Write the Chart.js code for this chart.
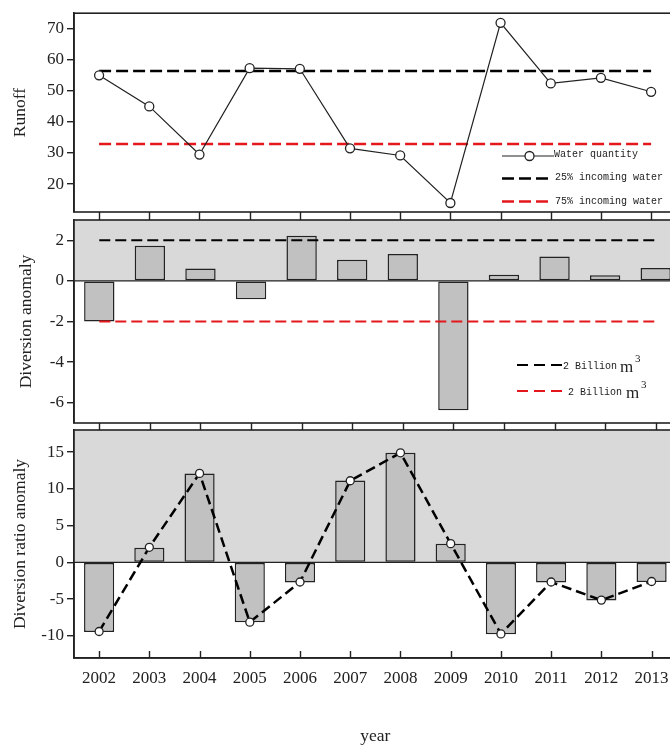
<!DOCTYPE html>
<html lang="en">
<head>
<meta charset="UTF-8">
<title>Runoff and diversion anomaly 2002-2013</title>
<script src="https://cdn.jsdelivr.net/npm/chart.js"></script>
<style>
  html, body { margin: 0; padding: 0; background: #fff; overflow: hidden; }
  .wrap { position: relative; width: 670px; height: 747px; overflow: hidden; }
  .wrap canvas { position: absolute; left: 0; top: 0; }
</style>
</head>
<body>
<div class="wrap">
  <canvas id="runoffChart" width="682" height="747"></canvas>
  <canvas id="diversionChart" width="682" height="747"></canvas>
  <canvas id="ratioChart" width="682" height="747"></canvas>
</div>
<script>
const years = ['2002', '2003', '2004', '2005', '2006', '2007', '2008', '2009', '2010', '2011', '2012', '2013'];

// top panel
const runoff = [55.0, 45.0, 29.5, 57.3, 57.1, 31.5, 29.2, 13.9, 71.9, 52.4, 54.2, 49.7];
const runoff25 = 56.4;
const runoff75 = 32.9;
const runoffTicks = [20, 30, 40, 50, 60, 70];

// middle panel
const diversion = [-2.0, 1.73, 0.61, -0.9, 2.22, 1.04, 1.32, -6.37, 0.3, 1.2, 0.28, 0.63];
const diversionUpper = 2;
const diversionLower = -2;
const diversionTicks = [-6, -4, -2, 0, 2];

// bottom panel
const ratioBars = [-9.45, 2.0, 12.1, -8.13, -2.73, 11.14, 14.9, 2.55, -9.77, -2.73, -5.18, -2.67];
const ratioLine = [-9.4, 2.05, 12.1, -8.13, -2.67, 11.1, 14.9, 2.55, -9.72, -2.67, -5.13, -2.6];
const ratioTicks = [-10, -5, 0, 5, 10, 15];

const ink = '#222';
const red = '#e3171c';
const shade = '#d9d9d9';
const barFill = '#c1c1c1';
const serif = '"Liberation Serif", "Times New Roman", serif';
const mono = '"Liberation Mono", "DejaVu Sans Mono", monospace';

function flat(v) {
    return [{ x: years[0], y: v }, { x: years[years.length - 1], y: v }];
}

const framePlugin = {
    id: 'frame',
    beforeDatasetsDraw(chart, args, opts) {
        const { ctx, chartArea: a, scales: { y } } = chart;
        if (!opts.shade) return;
        const y0 = y.getPixelForValue(0);
        ctx.save();
        ctx.fillStyle = shade;
        ctx.fillRect(a.left, a.top, a.right - a.left, y0 - a.top);
        ctx.strokeStyle = ink;
        ctx.lineWidth = 1.4;
        ctx.beginPath();
        ctx.moveTo(a.left, y0);
        ctx.lineTo(a.right, y0);
        ctx.stroke();
        ctx.restore();
    },
    afterDraw(chart, args, opts) {
        const { ctx, chartArea: a, scales: { x } } = chart;
        ctx.save();
        ctx.strokeStyle = ink;
        ctx.lineWidth = 1.6;
        ctx.strokeRect(a.left, a.top, a.right - a.left, a.bottom - a.top);
        ctx.lineWidth = 1.4;
        ctx.beginPath();
        years.forEach((yr, i) => {
            const px = Math.round(x.getPixelForValue(i)) + 0.5;
            ctx.moveTo(px, a.bottom);
            ctx.lineTo(px, a.bottom + opts.tickLen);
        });
        ctx.stroke();
        if (opts.legend) opts.legend(ctx);
        ctx.restore();
    }
};

function dashLine(ctx, x1, x2, y, color, dash, w) {
    ctx.save();
    ctx.strokeStyle = color;
    ctx.lineWidth = w;
    ctx.setLineDash(dash);
    ctx.beginPath();
    ctx.moveTo(x1, y);
    ctx.lineTo(x2, y);
    ctx.stroke();
    ctx.restore();
}

function runoffLegend(ctx) {
    ctx.font = '10px ' + mono;
    ctx.textBaseline = 'middle';
    dashLine(ctx, 502, 554, 156, ink, [], 1.2);
    ctx.beginPath();
    ctx.arc(529.5, 156, 4.5, 0, Math.PI * 2);
    ctx.fillStyle = '#fff';
    ctx.fill();
    ctx.strokeStyle = ink;
    ctx.lineWidth = 1.3;
    ctx.stroke();
    ctx.fillStyle = '#222';
    ctx.fillText('Water quantity', 554, 154);
    dashLine(ctx, 502, 552, 178.5, '#000', [12, 5], 2.5);
    ctx.fillText('25% incoming water', 555, 177);
    dashLine(ctx, 502, 552, 201.5, red, [12, 5], 2.5);
    ctx.fillText('75% incoming water', 555, 201);
}

function diversionLegend(ctx) {
    ctx.textBaseline = 'alphabetic';
    dashLine(ctx, 517, 565, 365, '#000', [11, 6], 2);
    dashLine(ctx, 517, 565, 391, red, [11, 6], 2);
    ctx.fillStyle = '#222';
    ctx.font = '10px ' + mono;
    ctx.fillText('2 Billion', 563, 369);
    ctx.fillText('2 Billion', 568, 395);
    ctx.font = '17px ' + serif;
    ctx.fillText('m', 620, 372);
    ctx.fillText('m', 626, 398);
    ctx.font = '11px ' + serif;
    ctx.fillText('3', 635, 362);
    ctx.fillText('3', 641, 388);
}

function yAxis(min, max, ticks, title, titlePad) {
    return {
        min: min,
        max: max,
        afterBuildTicks: s => { s.ticks = ticks.map(v => ({ value: v })); },
        afterFit: s => { s.width = 74; },
        grid: { drawOnChartArea: false, drawTicks: true, tickLength: 7, color: ink, lineWidth: 1.4 },
        border: { display: true, color: ink, width: 1.6 },
        ticks: { padding: 3, color: ink, font: { family: serif, size: 17 } },
        title: {
            display: true, text: title, color: ink,
            font: { family: serif, size: 17.5 },
            padding: { top: titlePad, bottom: 0 }
        }
    };
}

Chart.defaults.devicePixelRatio = 1;

new Chart(document.getElementById('runoffChart'), {
    type: 'line',
    data: {
        labels: years,
        datasets: [{
            data: runoff,
            order: 0,
            borderColor: ink,
            borderWidth: 1.2,
            tension: 0,
            pointRadius: 4.5,
            pointBackgroundColor: '#fff',
            pointBorderColor: ink,
            pointBorderWidth: 1.3
        }, {
            data: flat(runoff25),
            order: 1,
            borderColor: '#000',
            borderWidth: 2.5,
            borderDash: [12, 5],
            pointRadius: 0
        }, {
            data: flat(runoff75),
            order: 2,
            borderColor: red,
            borderWidth: 2.5,
            borderDash: [12, 5],
            pointRadius: 0
        }]
    },
    options: {
        responsive: false,
        animation: false,
        events: [],
        layout: { padding: { top: 10, bottom: 535, left: 0, right: 1 } },
        plugins: { legend: { display: false }, tooltip: { enabled: false }, frame: { tickLen: 8, legend: runoffLegend } },
        scales: {
            x: { type: 'category', offset: true, display: false },
            y: yAxis(11, 75, runoffTicks, 'Runoff', 9.5)
        }
    },
    plugins: [framePlugin]
});

new Chart(document.getElementById('diversionChart'), {
    type: 'bar',
    data: {
        labels: years,
        datasets: [{
            type: 'line',
            data: flat(diversionUpper),
            order: 0,
            borderColor: '#000',
            borderWidth: 2,
            borderDash: [11, 5],
            pointRadius: 0
        }, {
            type: 'line',
            data: flat(diversionLower),
            order: 0,
            borderColor: red,
            borderWidth: 2,
            borderDash: [11, 5],
            pointRadius: 0
        }, {
            data: diversion,
            order: 1,
            backgroundColor: barFill,
            borderColor: ink,
            borderWidth: 1.5,
            borderSkipped: false,
            categoryPercentage: 1,
            barPercentage: 0.6
        }]
    },
    options: {
        responsive: false,
        animation: false,
        events: [],
        layout: { padding: { top: 220, bottom: 324, left: 0, right: 1 } },
        plugins: { legend: { display: false }, tooltip: { enabled: false }, frame: { shade: true, tickLen: 7, legend: diversionLegend } },
        scales: {
            x: { type: 'category', offset: true, display: false },
            y: yAxis(-7, 3, diversionTicks, 'Diversion anomaly', 15.5)
        }
    },
    plugins: [framePlugin]
});

new Chart(document.getElementById('ratioChart'), {
    type: 'bar',
    data: {
        labels: years,
        datasets: [{
            type: 'line',
            data: ratioLine,
            order: 0,
            borderColor: '#000',
            borderWidth: 2.5,
            borderDash: [10, 5],
            tension: 0,
            pointRadius: 4,
            pointBackgroundColor: '#fff',
            pointBorderColor: ink,
            pointBorderWidth: 1.3
        }, {
            data: ratioBars,
            order: 1,
            backgroundColor: barFill,
            borderColor: ink,
            borderWidth: 1.5,
            borderSkipped: false,
            categoryPercentage: 1,
            barPercentage: 0.6
        }]
    },
    options: {
        responsive: false,
        animation: false,
        events: [],
        layout: { padding: { top: 430, bottom: 0, left: 0, right: 1 } },
        plugins: { legend: { display: false }, tooltip: { enabled: false }, frame: { shade: true, tickLen: -7 } },
        scales: {
            x: {
                type: 'category',
                offset: true,
                afterFit: s => { s.height = 89; },
                grid: { display: true, drawOnChartArea: false, drawTicks: false },
                border: { display: true, color: ink, width: 1.6 },
                ticks: { padding: 10, color: ink, autoSkip: false, maxRotation: 0, font: { family: serif, size: 17 } },
                title: { display: true, text: 'year', color: ink, font: { family: serif, size: 17.5 }, padding: { top: 0, bottom: 0 } }
            },
            y: yAxis(-13, 18, ratioTicks, 'Diversion ratio anomaly', 9.5)
        }
    },
    plugins: [framePlugin]
});
</script>
</body>
</html>
